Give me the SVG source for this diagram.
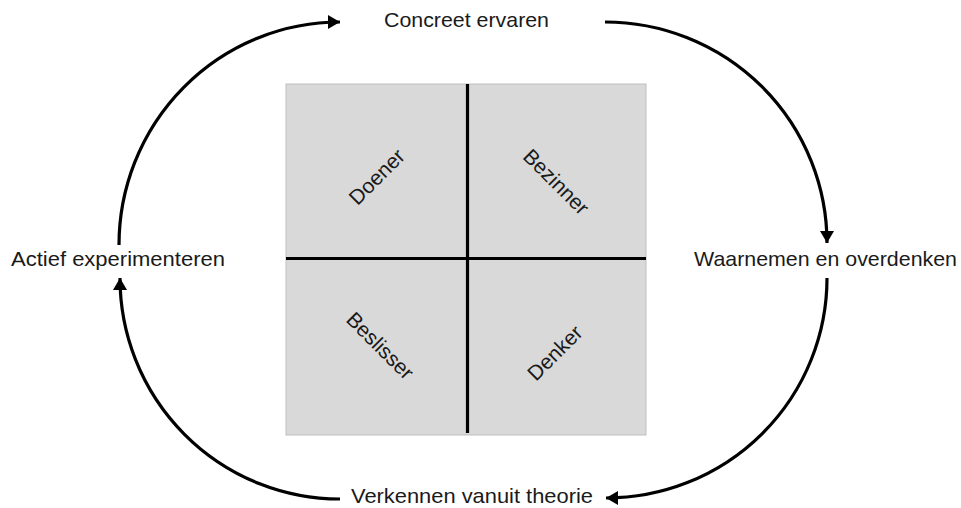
<svg xmlns="http://www.w3.org/2000/svg" width="961" height="508" viewBox="0 0 961 508">
<style>
.lbl{font-family:"Liberation Sans",Arial,sans-serif;font-size:21px;fill:#1a1a1a}
.q{font-family:"Liberation Sans",Arial,sans-serif;font-size:21px;fill:#1a1a1a;text-anchor:middle}
.arc{fill:none;stroke:#000;stroke-width:3.2;marker-end:url(#ah)}
.div{stroke:#000;stroke-width:3.2}
</style>
<defs>
<marker id="ah" markerUnits="userSpaceOnUse" markerWidth="14" markerHeight="14" refX="12" refY="7" orient="auto">
<path d="M0,0 L12,7 L0,14 Z" fill="#000"/>
</marker>
</defs>
<rect width="961" height="508" fill="#fff"/>
<g id="matrix">
<rect x="286" y="84" width="360" height="351" fill="#d9d9d9" stroke="#bfbfbf" stroke-width="1"/>
<line class="div" x1="467.5" y1="84" x2="467.5" y2="433"/>
<line class="div" x1="286" y1="258.5" x2="646" y2="258.5"/>
</g>
<g id="doener"><text class="q" transform="translate(377,177) rotate(-45)" dy="7">Doener</text></g>
<g id="bezinner"><text class="q" transform="translate(556,182) rotate(45)" dy="7">Bezinner</text></g>
<g id="beslisser"><text class="q" transform="translate(380,346) rotate(45)" dy="7">Beslisser</text></g>
<g id="denker"><text class="q" transform="translate(555,353) rotate(-45)" dy="7">Denker</text></g>
<g id="concreet"><text class="lbl" x="384" y="27" textLength="165" lengthAdjust="spacingAndGlyphs">Concreet ervaren</text></g>
<g id="waarnemen"><text class="lbl" x="694" y="266" textLength="263" lengthAdjust="spacingAndGlyphs">Waarnemen en overdenken</text></g>
<g id="verkennen"><text class="lbl" x="351" y="503" textLength="242" lengthAdjust="spacingAndGlyphs">Verkennen vanuit theorie</text></g>
<g id="actief"><text class="lbl" x="11" y="266" textLength="214" lengthAdjust="spacingAndGlyphs">Actief experimenteren</text></g>
<g id="connectors">
<path class="arc" d="M119,245 A221,223 0 0 1 340,22"/>
<path class="arc" d="M605,22 A222,221 0 0 1 827,243"/>
<path class="arc" d="M827,278 A221,220 0 0 1 606,498"/>
<path class="arc" d="M340,499 A220,221 0 0 1 120,278"/>
</g>
</svg>
